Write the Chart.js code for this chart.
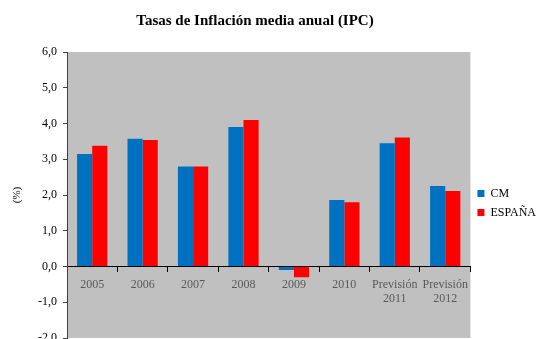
<!DOCTYPE html>
<html>
<head>
<meta charset="utf-8">
<script src="https://cdn.jsdelivr.net/npm/chart.js@4/dist/chart.umd.min.js"></script>
<style>
  html, body { margin: 0; padding: 0; background: #fff; overflow: hidden; }
  #wrap { width: 537px; height: 360px; position: relative; }
</style>
</head>
<body>
<div id="wrap"><canvas id="inflChart"></canvas></div>
<script>
// Données
const categories = ['2005', '2006', '2007', '2008', '2009', '2010', ['Previsión', '2011'], ['Previsión', '2012']];
const cmValues = [3.15, 3.57, 2.8, 3.9, -0.1, 1.86, 3.45, 2.25];
const espanaValues = [3.38, 3.54, 2.8, 4.1, -0.3, 1.8, 3.61, 2.11];
const yTicks = { min: -2, max: 6, step: 1 };

const serif = "'Liberation Serif', 'Times New Roman', serif";

// Fond gris de la zone de tracé
const fondGris = {
    id: 'fondGris',
    beforeDraw(chart) {
        const { ctx, chartArea } = chart;
        ctx.save();
        ctx.fillStyle = '#c0c0c0';
        ctx.fillRect(chartArea.left, chartArea.top, chartArea.right - chartArea.left, chartArea.bottom - chartArea.top);
        ctx.restore();
    }
};

// Petits décalages : titre un peu à gauche, légende plus bas
const ajustes = {
    id: 'ajustes',
    afterLayout(chart) {
        if (chart.titleBlock) {
            chart.titleBlock.left -= 36;
        }
        if (chart.legend) {
            chart.legend.top += 34;
            chart.legend.bottom += 34;
        }
    }
};

const ctx = document.getElementById('inflChart').getContext('2d');
new Chart(ctx, {
    type: 'bar',
    data: {
        labels: categories,
        datasets: [
            { label: 'CM', data: cmValues, backgroundColor: '#0070c0' },
            { label: 'ESPAÑA', data: espanaValues, backgroundColor: '#ff0000' }
        ]
    },
    options: {
        responsive: true,
        maintainAspectRatio: false,
        animation: false,
        datasets: { bar: { categoryPercentage: 0.6, barPercentage: 1.0 } },
        layout: { padding: { left: 0, right: -9, top: 0, bottom: 22 } },
        plugins: {
            title: {
                display: true,
                text: 'Tasas de Inflación media anual (IPC)',
                color: '#000',
                font: { family: serif, size: 15, weight: 'bold' },
                padding: { top: 12, bottom: 22 }
            },
            legend: {
                position: 'right',
                labels: {
                    color: '#000',
                    font: { family: serif, size: 12 },
                    boxWidth: 7,
                    boxHeight: 7,
                    padding: 7
                }
            },
            tooltip: { enabled: false }
        },
        scales: {
            x: {
                position: { y: 0 },
                grid: { drawOnChartArea: false, tickLength: 5, color: '#000' },
                border: { color: '#000', width: 1 },
                ticks: { color: '#595959', padding: 6, font: { family: serif, size: 12 }, maxRotation: 0 }
            },
            y: {
                min: yTicks.min,
                max: yTicks.max,
                afterFit: (scale) => { scale.width = 67; },
                grid: { drawOnChartArea: false, tickLength: 4, color: '#404040' },
                border: { color: '#404040', width: 1 },
                ticks: {
                    stepSize: yTicks.step,
                    color: '#000',
                    padding: 6,
                    font: { family: serif, size: 12 },
                    callback: (v) => v.toFixed(1).replace('.', ',')
                },
                title: {
                    display: true,
                    text: '(%)',
                    color: '#000',
                    font: { family: serif, size: 11 },
                    padding: { top: 11, bottom: 0 }
                }
            }
        }
    },
    plugins: [fondGris, ajustes]
});
</script>
</body>
</html>
